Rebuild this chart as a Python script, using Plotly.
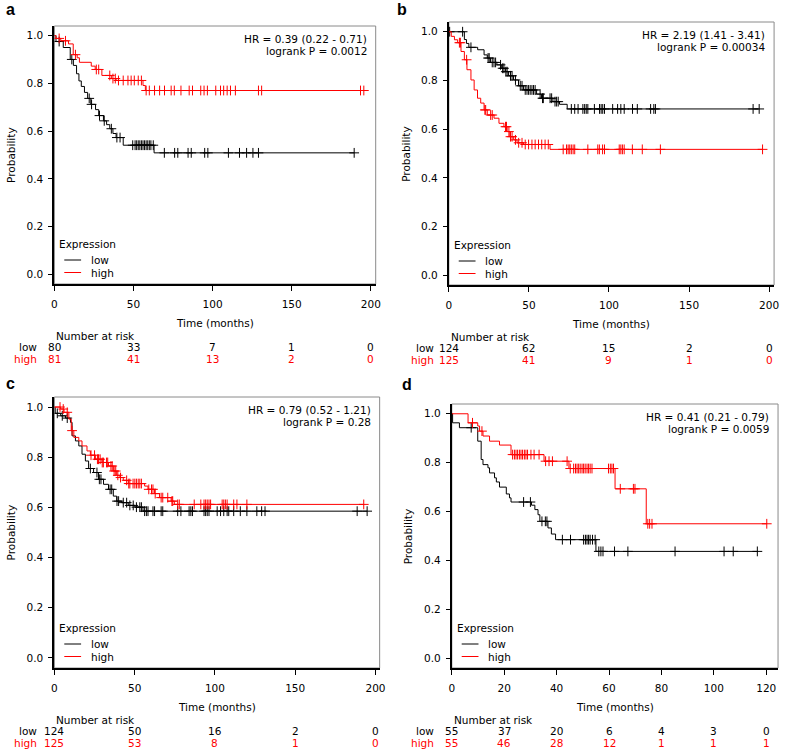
import plotly.graph_objects as go

W, H = 787, 754

# ---- data ----
# step times (months) and survival after each step, censor times

a_low_t = [0, 1, 5.6, 10, 12, 14, 15.5, 17, 19, 21, 23, 26, 28, 31, 33, 35, 37, 39, 43.5, 63]
a_low_s = [1.0, 0.975, 0.95, 0.9, 0.875, 0.84, 0.81, 0.787, 0.762, 0.737, 0.712, 0.69, 0.665, 0.643, 0.627, 0.61, 0.59, 0.573, 0.541, 0.509]
a_low_cens = [3, 11, 22, 23.5, 28.5, 31.5, 36, 39.5, 41.5, 49.5, 51, 52, 53, 54, 55, 56, 57, 58, 59, 60, 61, 62.5,
              69.5, 76, 78, 84.5, 86.5, 95, 97, 110, 117, 121.5, 125.5, 129, 189.5]
a_high_t = [0, 1, 4, 8.9, 11.9, 14.4, 15.8, 23.3, 25.8, 30, 36, 39, 56, 57.5]
a_high_s = [1.0, 0.988, 0.978, 0.965, 0.92, 0.907, 0.888, 0.872, 0.858, 0.833, 0.82, 0.812, 0.791, 0.77]
a_high_cens = [3, 7, 13.3, 26.5, 28, 35, 37, 38.5, 40.5, 43.5, 46.5, 48.5, 50.5, 53, 55, 58, 60, 63.3, 66.5, 69.6,
               73.8, 75.8, 80, 85.2, 87.3, 92.5, 94.6, 96.7, 102, 105, 107, 109.2, 111.3, 114.4, 129, 131, 193.5, 195.6]
a_risk_t = [0, 50, 100, 150, 200]
a_risk_low = [80, 33, 7, 1, 0]
a_risk_high = [81, 41, 13, 2, 0]
a_stats = ["HR = 0.39 (0.22 - 0.71)", "logrank P = 0.0012"]

b_low_t = [0, 9.7, 11, 12.5, 18, 22, 24, 26, 30, 33, 35.3, 37.3, 40.4, 43.5, 46.6, 54.8, 57.9, 65, 69.1, 73.9]
b_low_s = [1.0, 0.968, 0.952, 0.936, 0.926, 0.905, 0.892, 0.874, 0.864, 0.85, 0.836, 0.819, 0.802, 0.778, 0.761,
           0.744, 0.727, 0.713, 0.702, 0.683]
b_low_cens = [0.5, 8.6, 13.8, 24.5, 25.2, 27.1, 28.2, 29.2, 32.3, 33.6, 34.4, 35.6, 36.4, 38.5, 39.5, 41.6, 44.6,
              45.7, 47.7, 48.8, 49.8, 50.8, 51.9, 52.9, 53.9, 57, 58.5, 59, 63.2, 64.2, 66.3, 67.3, 68.3, 76.5,
              78.6, 80.7, 83.7, 84.8, 85.8, 86.8, 90.9, 94.1, 95.1, 96.1, 97.2, 102.3, 105.4, 107.4, 109.5,
              114.7, 117.7, 126, 128, 129, 190, 193.8]
b_high_t = [0, 1.5, 3.5, 5.5, 7.6, 9.7, 11.3, 13.8, 15.8, 17.9, 19.9, 22, 24, 28.2, 31.3, 34.4, 36.4, 38.1, 40.5,
            42.6, 46.7, 63.2]
b_high_s = [1.0, 0.981, 0.967, 0.955, 0.919, 0.885, 0.844, 0.802, 0.761, 0.727, 0.707, 0.679, 0.658, 0.645, 0.624,
            0.61, 0.59, 0.569, 0.556, 0.544, 0.537, 0.517]
b_high_cens = [6.6, 7.2, 11.1, 22.5, 23, 26.1, 27.1, 35.4, 36, 37.5, 38.5, 39.5, 41.6, 43.6, 45.7, 47.7, 49.8,
               51.9, 53.9, 56, 58, 60.1, 62.1, 71.4, 73.5, 74.5, 75.5, 76.5, 77.6, 78.6, 86.8, 93, 94, 96, 97.2,
               106.4, 107.4, 108.4, 109.5, 114.6, 120.8, 132.1, 195.9]
b_risk_t = [0, 50, 100, 150, 200]
b_risk_low = [124, 62, 15, 2, 0]
b_risk_high = [125, 41, 9, 1, 0]
b_stats = ["HR = 2.19 (1.41 - 3.41)", "logrank P = 0.00034"]

c_low_t = [0, 0.5, 3.9, 6.9, 10, 11, 13.1, 15.2, 17.2, 19.3, 21.3, 24.4, 27.5, 30.6, 33.7, 36.7, 38.8, 41.9, 46,
           50.1, 55.2]
c_low_s = [1.0, 0.975, 0.965, 0.956, 0.939, 0.885, 0.865, 0.845, 0.812, 0.785, 0.755, 0.739, 0.712, 0.692, 0.672,
           0.645, 0.625, 0.619, 0.608, 0.601, 0.585]
c_low_cens = [1.8, 4.9, 8, 22.4, 26.5, 28, 29, 34.7, 35.7, 39, 40, 42.9, 45, 47, 49.1, 51.1, 53.2, 54.2, 56.2,
              57.3, 58.3, 61.4, 62.4, 66.5, 67.5, 76.8, 78.8, 83.9, 85, 86, 93.2, 94.2, 95.2, 96.3, 101.4, 103.5,
              105.5, 107.6, 108.6, 111.7, 115.8, 119.9, 126.1, 129.1, 131.2, 188.6, 194.8]
c_high_t = [0, 3.9, 6, 9, 10.5, 12.1, 15.2, 17.2, 20.3, 22.4, 25.5, 29.6, 33.7, 36.7, 38.8, 40.8, 42.9, 46, 56.2,
            58.3, 62.4, 65.5, 72.7, 74.7]
c_high_s = [1.0, 0.992, 0.979, 0.952, 0.906, 0.879, 0.865, 0.845, 0.825, 0.808, 0.792, 0.779, 0.765, 0.745, 0.728,
            0.719, 0.708, 0.695, 0.685, 0.672, 0.655, 0.639, 0.625, 0.612]
c_high_cens = [3.5, 5.5, 8, 11, 22.8, 25, 26.8, 27.5, 28.5, 29.8, 30.5, 32.5, 33.2, 35.2, 36, 37.2, 38.2, 39.5,
               41.2, 45, 46.3, 47, 49, 50.1, 51.1, 52.2, 53.2, 54.2, 58.8, 60.5, 61.4, 62.8, 66.5, 67.5, 70.6,
               73.2, 73.7, 76.8, 77.8, 87.1, 91.2, 93.2, 94.2, 95.2, 96.3, 97.3, 104.5, 105.5, 106.5, 107.6,
               111.7, 113.7, 119.9, 192.7]
c_risk_t = [0, 50, 100, 150, 200]
c_risk_low = [124, 50, 16, 2, 0]
c_risk_high = [125, 53, 8, 1, 0]
c_stats = ["HR = 0.79 (0.52 - 1.21)", "logrank P = 0.28"]

d_low_t = [0, 0.3, 2.9, 9.9, 11.2, 11.9, 13.8, 14.4, 16.3, 17, 18.2, 20.8, 22, 22.6, 30.4, 31.7, 32.9, 33.6,
           36.7, 38, 39.6, 55]
d_low_s = [1.0, 0.963, 0.943, 0.888, 0.813, 0.792, 0.779, 0.758, 0.738, 0.721, 0.7, 0.672, 0.656, 0.639, 0.626,
           0.608, 0.587, 0.56, 0.533, 0.508, 0.485, 0.437]
d_low_cens = [7.4, 27.4, 30, 34.4, 35.7, 36.3, 42.2, 45.3, 50.3, 51, 51.6, 52.2, 52.8, 53.7, 54.7, 56.1, 56.9,
              57.7, 62.1, 67.2, 85.2, 103.9, 107.4, 116.6]
d_high_t = [0, 6.2, 9.9, 10.6, 11.9, 14.4, 18.2, 22.6, 35.2, 44.7, 62.3, 74.2]
d_high_s = [1.0, 0.963, 0.95, 0.929, 0.909, 0.888, 0.872, 0.833, 0.806, 0.776, 0.693, 0.55]
d_high_cens = [7.9, 11.5, 23.2, 23.9, 24.5, 25.1, 25.8, 26.4, 27, 27.7, 28.3, 28.9, 30.2, 31.4, 33.3, 35.8, 37.1,
               38.4, 44, 45.2, 46.5, 47.2, 47.8, 48.4, 49, 49.7, 50.3, 50.9, 51.6, 52.2, 52.8, 53.5, 59.8, 60.5,
               61.1, 61.7, 64.3, 69.3, 69.9, 74.8, 75.5, 76.4, 120.2]
d_risk_t = [0, 20, 40, 60, 80, 100, 120]
d_risk_low = [55, 37, 20, 6, 4, 3, 0]
d_risk_high = [55, 46, 28, 12, 1, 1, 1]
d_stats = ["HR = 0.41 (0.21 - 0.79)", "logrank P = 0.0059"]

group_names = ["low", "high"]

# ---- layout (pixel boxes: left, right, top, bottom) ----
panels = [
    dict(tag="a", box=(52, 377, 26, 284), xmax=203.1, dtick=50, risk_lab_x=36, tag_xy=(1, -1),
         low=(a_low_t, a_low_s, a_low_cens), high=(a_high_t, a_high_s, a_high_cens),
         risk=(a_risk_t, a_risk_low, a_risk_high), stats=a_stats),
    dict(tag="b", box=(451, 780, 22, 285), xmax=203.1, dtick=50, risk_lab_x=438.5, tag_xy=(397, -1),
         low=(b_low_t, b_low_s, b_low_cens), high=(b_high_t, b_high_s, b_high_cens),
         risk=(b_risk_t, b_risk_low, b_risk_high), stats=b_stats),
    dict(tag="c", box=(52, 381, 397, 668), xmax=202.6, dtick=50, risk_lab_x=36, tag_xy=(1, 373),
         low=(c_low_t, c_low_s, c_low_cens), high=(c_high_t, c_high_s, c_high_cens),
         risk=(c_risk_t, c_risk_low, c_risk_high), stats=c_stats),
    dict(tag="d", box=(454, 784, 404, 668), xmax=124.5, dtick=20, risk_lab_x=438, tag_xy=(402, 374),
         low=(d_low_t, d_low_s, d_low_cens), high=(d_high_t, d_high_s, d_high_cens),
         risk=(d_risk_t, d_risk_low, d_risk_high), stats=d_stats),
]

FONT = "DejaVu Sans"
FS = 10.5
BLACK = "#000000"
RED = "#ff0000"
colors = [BLACK, RED]


def px(x):
    return x / W


def py(y):
    return 1 - y / H


def surv_at(times, surv, t):
    val = surv[0]
    for ti, si in zip(times, surv):
        if ti <= t:
            val = si
    return val


fig = go.Figure()
annotations = []
shapes = []

for i, p in enumerate(panels, start=1):
    L, R, T, B = p["box"]
    xa = "x" if i == 1 else f"x{i}"
    ya = "y" if i == 1 else f"y{i}"
    xkey = "xaxis" if i == 1 else f"xaxis{i}"
    ykey = "yaxis" if i == 1 else f"yaxis{i}"

    for grp, col in zip([p["low"], p["high"]], colors):
        t, s, cens = grp
        end = max(cens + t)
        fig.add_trace(go.Scatter(
            x=t + [end], y=s + [s[-1]], mode="lines", line=dict(color=col, width=1, shape="hv"),
            xaxis=xa, yaxis=ya, showlegend=False, hoverinfo="skip"))
        fig.add_trace(go.Scatter(
            x=cens, y=[surv_at(t, s, c) for c in cens], mode="markers",
            marker=dict(symbol="cross-thin", size=7, line=dict(color=col, width=1)),
            xaxis=xa, yaxis=ya, showlegend=False, hoverinfo="skip"))

    fig.update_layout({
        xkey: dict(domain=[px(L), px(R)], anchor=ya, range=[0, p["xmax"]],
                   tickmode="linear", tick0=0, dtick=p["dtick"],
                   ticks="outside", ticklen=5, tickwidth=1, tickcolor=BLACK,
                   showline=True, linecolor=BLACK, linewidth=1.5, showgrid=False, zeroline=False,
                   tickfont=dict(family=FONT, size=FS, color=BLACK), ticklabelstandoff=5),
        ykey: dict(domain=[py(B), py(T)], anchor=xa, range=[-0.04, 1.04],
                   tickmode="linear", tick0=0, dtick=0.2, tickformat=".1f",
                   ticks="outside", ticklen=4, tickwidth=1, tickcolor=BLACK,
                   showline=True, linecolor=BLACK, linewidth=2, showgrid=False, zeroline=False,
                   tickfont=dict(family=FONT, size=FS, color=BLACK), ticklabelstandoff=3),
    })

    # grey frame around the plot area
    shapes.append(dict(type="rect", xref="paper", yref="paper", x0=px(L), x1=px(R), y0=py(B), y1=py(T),
                       line=dict(color="#8a8a8a", width=1), layer="below"))

    # panel letter
    annotations.append(dict(text="<b>%s</b>" % p["tag"], x=px(p["tag_xy"][0]), y=py(p["tag_xy"][1]),
                            xref="paper", yref="paper", xanchor="left", yanchor="top", showarrow=False,
                            font=dict(family="Liberation Sans", size=16, color=BLACK)))

    # axis titles
    annotations.append(dict(text="Probability", x=px(L - 44), y=py((T + B) / 2), xref="paper", yref="paper",
                            textangle=-90, showarrow=False, xanchor="center", yanchor="middle",
                            font=dict(family=FONT, size=FS, color=BLACK)))
    annotations.append(dict(text="Time (months)", x=px((L + R) / 2), y=py(B + 39), xref="paper", yref="paper",
                            showarrow=False, xanchor="center", yanchor="middle",
                            font=dict(family=FONT, size=FS, color=BLACK)))

    # HR / logrank text
    for k, line in enumerate(p["stats"]):
        annotations.append(dict(text=line, x=px(R - 7), y=py(T + 13 + 12 * k), xref="paper", yref="paper",
                                showarrow=False, xanchor="right", yanchor="middle",
                                font=dict(family=FONT, size=FS, color=BLACK)))

    # legend
    annotations.append(dict(text="Expression", x=px(L + 3), y=py(B - 40), xref="paper", yref="paper",
                            showarrow=False, xanchor="left", yanchor="middle",
                            font=dict(family=FONT, size=FS, color=BLACK)))
    for k, (name, col) in enumerate(zip(group_names, colors)):
        yy = B - 24 + 12.5 * k
        shapes.append(dict(type="line", xref="paper", yref="paper", x0=px(L + 10), x1=px(L + 27),
                           y0=py(yy), y1=py(yy), line=dict(color=col, width=1)))
        annotations.append(dict(text=name, x=px(L + 35), y=py(yy), xref="paper", yref="paper",
                                showarrow=False, xanchor="left", yanchor="middle",
                                font=dict(family=FONT, size=FS, color=BLACK)))

    # number at risk table
    annotations.append(dict(text="Number at risk", x=0, y=py(B + 52), xref=xa, yref="paper",
                            showarrow=False, xanchor="left", yanchor="middle",
                            font=dict(family=FONT, size=FS, color=BLACK)))
    rt, rlow, rhigh = p["risk"]
    for k, (name, vals, col) in enumerate(zip(group_names, [rlow, rhigh], colors)):
        yy = B + 63 + 11.5 * k
        annotations.append(dict(text=name, x=px(p["risk_lab_x"]), y=py(yy), xref="paper", yref="paper",
                                showarrow=False, xanchor="right", yanchor="middle",
                                font=dict(family=FONT, size=FS, color=col)))
        for tt, v in zip(rt, vals):
            annotations.append(dict(text=str(v), x=tt, y=py(yy), xref=xa, yref="paper",
                                    showarrow=False, xanchor="center", yanchor="middle",
                                    font=dict(family=FONT, size=FS, color=col)))

fig.update_layout(
    width=W, height=H, margin=dict(l=0, r=0, t=0, b=0),
    paper_bgcolor="white", plot_bgcolor="white", showlegend=False,
    annotations=annotations, shapes=shapes,
)

fig.write_html("out.html", config={"displayModeBar": False},
               post_script="document.body.style.margin='0';")
